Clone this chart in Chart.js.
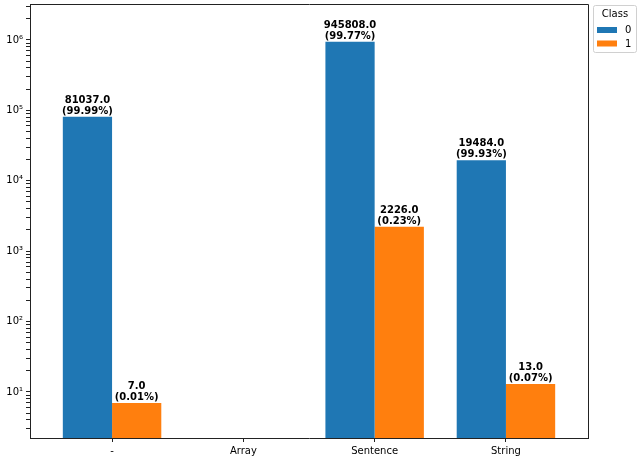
<!DOCTYPE html>
<html>
<head>
<meta charset="utf-8">
<script src="https://cdn.jsdelivr.net/npm/chart.js@4"></script>
<style>
  html, body { margin: 0; padding: 0; background: #fff; }
  #wrap { width: 638px; height: 460px; }
</style>
</head>
<body>
<div id="wrap"><canvas id="chart" width="638" height="460"></canvas></div>
<script>
// data
const categories = ['-', 'Array', 'Sentence', 'String'];
const class0 = [81037, null, 945808, 19484];
const class1 = [7, null, 2226, 13];
const seriesNames = ['0', '1'];
const yPowers = [0, 1, 2, 3, 4, 5, 6];

const colors = { blue: '#1f77b4', orange: '#ff7f0e', axis: '#222', text: '#000' };
const FONT = "'DejaVu Sans', sans-serif";
const SUP = { '0': '⁰', '1': '¹', '2': '²', '3': '³', '4': '⁴', '5': '⁵', '6': '⁶' };

function toPoints(values) {
    return values.map((v, i) => ({ x: i, y: v }));
}

// "count.0" and "(pct%)" over each bar
const barLabels = {
    id: 'barLabels',
    afterDatasetsDraw(chart) {
        const ctx = chart.ctx;
        ctx.save();
        ctx.font = 'bold 10px ' + FONT;
        ctx.fillStyle = colors.text;
        ctx.textAlign = 'center';
        ctx.textBaseline = 'alphabetic';
        chart.data.datasets.forEach((ds, di) => {
            const meta = chart.getDatasetMeta(di);
            meta.data.forEach((bar, i) => {
                const v = ds.data[i].y;
                if (v == null) return;
                const total = chart.data.datasets.reduce((s, d) => s + (d.data[i].y || 0), 0);
                const pct = (v / total * 100).toFixed(2);
                ctx.fillText(v.toFixed(1), bar.x, bar.y - 14);
                ctx.fillText('(' + pct + '%)', bar.x, bar.y - 3);
            });
        });
        ctx.restore();
    }
};

// top/right spines and the boxed legend
const frame = {
    id: 'frame',
    afterDraw(chart) {
        const ctx = chart.ctx;
        const a = chart.chartArea;
        ctx.save();
        ctx.strokeStyle = colors.axis;
        ctx.lineWidth = 1;
        ctx.beginPath();
        ctx.moveTo(Math.round(a.left) + 0.5, Math.round(a.top) + 0.5);
        ctx.lineTo(Math.round(a.right) + 0.5, Math.round(a.top) + 0.5);
        ctx.lineTo(Math.round(a.right) + 0.5, Math.round(a.bottom) + 0.5);
        ctx.stroke();

        // legend box
        const lx = 593.5, ly = 5.5, lw = 43, lh = 47;
        ctx.fillStyle = 'rgba(255,255,255,0.8)';
        ctx.strokeStyle = '#d0d0d0';
        ctx.beginPath();
        ctx.roundRect(lx, ly, lw, lh, 2);
        ctx.fill();
        ctx.stroke();
        ctx.fillStyle = colors.text;
        ctx.font = '10px ' + FONT;
        ctx.textAlign = 'center';
        ctx.textBaseline = 'alphabetic';
        ctx.fillText('Class', lx + lw / 2, 17);
        ctx.textAlign = 'left';
        chart.data.datasets.forEach((ds, di) => {
            const y = 27 + di * 13.5;
            ctx.fillStyle = ds.backgroundColor;
            ctx.fillRect(597, y, 20, 6);
            ctx.fillStyle = colors.text;
            ctx.fillText(ds.label, 625, y + 6);
        });
        ctx.restore();
    }
};

new Chart(document.getElementById('chart'), {
    type: 'bar',
    data: {
        datasets: [{
            label: seriesNames[0],
            data: toPoints(class0),
            backgroundColor: colors.blue
        }, {
            label: seriesNames[1],
            data: toPoints(class1),
            backgroundColor: colors.orange
        }]
    },
    options: {
        responsive: false,
        animation: false,
        events: [],
        layout: { padding: { top: 4, right: 50, left: 0, bottom: 0 } },
        datasets: { bar: { categoryPercentage: 0.75, barPercentage: 1 } },
        plugins: { legend: { display: false }, tooltip: { enabled: false } },
        scales: {
            x: {
                type: 'linear',
                offset: false,
                min: -0.625,
                max: 3.625,
                afterBuildTicks(scale) {
                    scale.ticks = categories.map((c, i) => ({ value: i }));
                },
                afterFit(scale) {
                    scale.height = 22;
                    scale.paddingLeft = 0;
                    scale.paddingRight = 0;
                },
                ticks: {
                    autoSkip: false,
                    maxRotation: 0,
                    padding: 3,
                    color: colors.text,
                    font: { family: FONT, size: 10 },
                    callback: (v) => categories[v]
                },
                grid: { offset: false, drawOnChartArea: false, drawTicks: true, tickLength: 4, color: colors.axis },
                border: { color: colors.axis, width: 1 }
            },
            y: {
                type: 'logarithmic',
                min: 2.22,
                max: 3.24e6,
                afterBuildTicks(scale) {
                    const t = [];
                    yPowers.forEach(p => {
                        for (let m = 1; m <= 9; m++) {
                            const v = m * Math.pow(10, p);
                            if (v >= scale.min && v <= scale.max) t.push({ value: v });
                        }
                    });
                    scale.ticks = t;
                },
                afterFit(scale) {
                    scale.width = 30;
                    scale.paddingTop = 0;
                    scale.paddingBottom = 0;
                },
                ticks: {
                    autoSkip: false,
                    padding: 3,
                    color: colors.text,
                    font: { family: FONT, size: 10 },
                    callback: (v) => {
                        const p = Math.round(Math.log10(v));
                        if (Math.abs(v - Math.pow(10, p)) > 1e-9 * v) return '';
                        return '10' + String(p).split('').map(d => SUP[d]).join('');
                    }
                },
                grid: {
                    offset: false,
                    drawOnChartArea: false,
                    drawTicks: true,
                    tickLength: 4,
                    color: colors.axis
                },
                border: { color: colors.axis, width: 1 }
            }
        }
    },
    plugins: [barLabels, frame]
});
</script>
</body>
</html>
